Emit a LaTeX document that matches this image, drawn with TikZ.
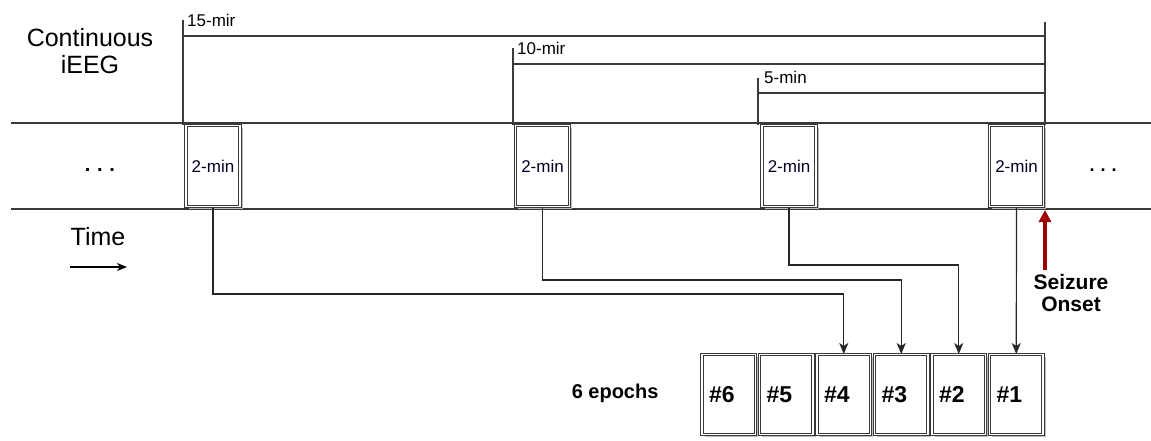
\documentclass[tikz,border=0pt]{standalone}
\usepackage{fontspec}
\setmainfont{Liberation Sans}
\usetikzlibrary{arrows.meta,shadows}
\definecolor{edge}{HTML}{3A3A3A}
\definecolor{shade}{HTML}{BDBDBD}
\definecolor{onset}{HTML}{9A0000}
\definecolor{onsettip}{HTML}{E00000}
\tikzset{
  x=1pt, y=-1pt,
  thin line/.style={draw=edge, line width=1.3pt},
  boxshadow/.style={drop shadow={shadow xshift=2.5pt, shadow yshift=-2.5pt, fill=shade, opacity=1}},
  minbox/.style={draw=edge, double=white, double distance=1.8pt, line width=1pt,
    minimum width=54pt, minimum height=81pt, inner sep=0pt,
    font=\fontsize{17}{17}\selectfont, text=black!85!blue,
    boxshadow, fill=white},
  epochbox/.style={draw=edge, double=white, double distance=1.8pt, line width=1pt,
    minimum width=53.5pt, minimum height=80pt, inner xsep=7pt, text width=39.5pt, align=left,
    font=\fontsize{23}{23}\selectfont\bfseries,
    boxshadow, fill=white},
  spanlabel/.style={anchor=west, inner sep=0pt, font=\fontsize{17}{17}\selectfont},
  conn/.style={draw=black!85, line width=1.2pt, -{Stealth[length=11pt,width=9pt,inset=3pt]}},
  bigtext/.style={font=\fontsize{25}{27}\selectfont, align=center},
}
\begin{document}
\begin{tikzpicture}
\useasboundingbox (0,0) rectangle (1151,440);

% timeline band
\coordinate (tl) at (11,123);
\coordinate (tr) at (1151,123);
\coordinate (bl) at (11,209);
\coordinate (br) at (1151,209);
\draw[thin line] (tl) -- (tr);
\draw[thin line] (bl) -- (br);

% left texts
\node[bigtext] (cont) at (90,51) {Continuous\\iEEG};
\node[font=\fontsize{20}{20}\selectfont\bfseries] (ldots) at (100,170) {.\,\,.\,\,.};
\node[font=\fontsize{18}{18}\selectfont\bfseries] (rdots) at (1103,170) {.\,\,.\,\,.};
\node[bigtext] (time) at (98,237) {Time};
\coordinate (ta) at (70,267);
\coordinate (tb) at (127,267);
\draw[line width=1.2pt, -{Stealth[length=10pt,width=8pt,inset=3pt]}] (ta) -- (tb);

% 2-min boxes
\node[minbox] (b1) at (213,166) {2-min};
\node[minbox] (b2) at (542.5,166) {2-min};
\node[minbox] (b3) at (789,166) {2-min};
\node[minbox] (b4) at (1016.5,166) {2-min};

% span markers
\coordinate (s15) at (183,20);
\coordinate (s10) at (513,48);
\coordinate (s5) at (758,78);
\coordinate (send) at (1045,22);
\coordinate (h15) at (1045,36);
\coordinate (h10) at (1045,64);
\coordinate (h5) at (1045,93);
\draw[thin line] (s15) -- (s15 |- b1.north);
\draw[thin line] (s10) -- (s10 |- b2.north);
\draw[thin line] (s5) -- (s5 |- b3.north);
\draw[thin line] (send) -- (send |- b4.north);
\draw[thin line] (s15 |- h15) -- (h15);
\draw[thin line] (s10 |- h10) -- (h10);
\draw[thin line] (s5 |- h5) -- (h5);
\node[spanlabel] (l15) at (187,20) {15-mir};
\node[spanlabel] (l10) at (517,48) {10-mir};
\node[spanlabel] (l5) at (764,77) {5-min};

% epoch boxes
\node[epochbox] (e6) at (728.75,394.5) {\#6};
\node[epochbox] (e5) at (786.25,394.5) {\#5};
\node[epochbox] (e4) at (843.75,394.5) {\#4};
\node[epochbox] (e3) at (901.25,394.5) {\#3};
\node[epochbox] (e2) at (958.75,394.5) {\#2};
\node[epochbox] (e1) at (1016.25,394.5) {\#1};
\node[font=\fontsize{20}{20}\selectfont\bfseries, anchor=east] (ep) at (662,393) {6 epochs};

% connectors
\coordinate (y1) at (0,294);
\coordinate (y2) at (0,280);
\coordinate (y3) at (0,265);
\draw[conn] (b1.south) -- (b1.south |- y1) -| (e4.north);
\draw[conn] (b2.south) -- (b2.south |- y2) -| (e3.north);
\draw[conn] (b3.south) -- (b3.south |- y3) -| (e2.north);
\draw[conn] (b4.south) -- (e1.north);

% seizure onset
\coordinate (so) at (1045,270);
\coordinate (sotop) at (1045,210);
\draw[draw=onset, line width=3.5pt, -{Triangle[length=12pt,width=12pt,fill=onsettip]}] (so) -- (sotop);
\node[font=\fontsize{21}{22}\selectfont\bfseries, align=center] (sotext) at (1071,293) {Seizure\\Onset};
\end{tikzpicture}
\end{document}
